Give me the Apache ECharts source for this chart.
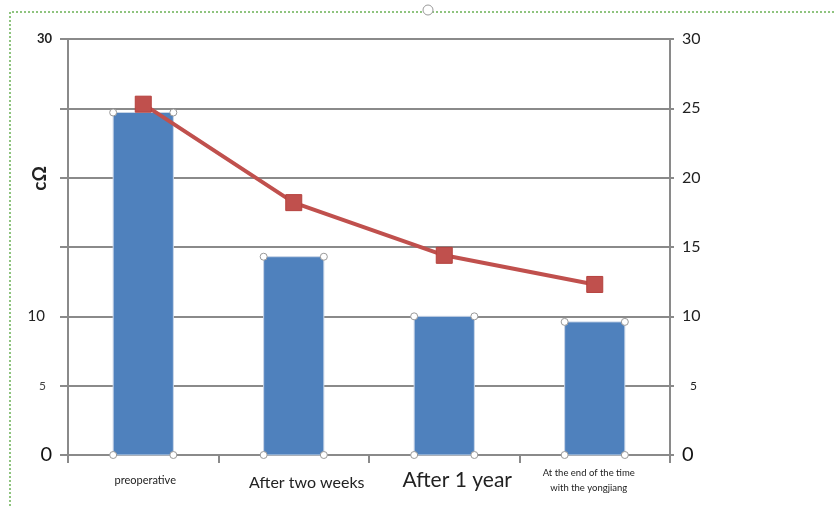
<!DOCTYPE html>
<html>
<head>
<meta charset="utf-8">
<style>
  html, body { margin: 0; padding: 0; background: #fff; }
  #chart { width: 834px; height: 507px; }
</style>
<script src="https://cdn.jsdelivr.net/npm/echarts@6/dist/echarts.min.js"></script>
</head>
<body>
<div id="chart"></div>
<script>
// data
const categories = ['preoperative', 'After two weeks', 'After 1 year', 'At the end of the time\nwith the yongjiang'];
const barValues = [24.7, 14.3, 10.0, 9.6];
const lineValues = [25.3, 18.2, 14.4, 12.3];
const leftTicks = ['30', '10', '5', '0'];
const axisName = 'cΩ';

const gray = '#8a8a8a';
const font = 'Lato, "Noto Sans", sans-serif';

const catStyles = [
    { fontSize: 11, lineHeight: 30, padding: [0, 0, 0, 4] },
    { fontSize: 16, lineHeight: 36, padding: [0, 0, 0, 26] },
    { fontSize: 21, lineHeight: 30, padding: [0, 0, 0, 26] },
    { fontSize: 9.5, lineHeight: 15, padding: [0, 12, 0, 0] }
];

const myChart = echarts.init(document.getElementById('chart'));

const option = {
    animation: false,
    textStyle: { fontFamily: font },
    grid: { left: 68, right: 164, top: 39, bottom: 52 },
    xAxis: {
        type: 'category',
        data: categories.map((c, i) => ({ value: c, textStyle: catStyles[i] })),
        axisLine: { lineStyle: { color: gray, width: 2 } },
        axisTick: { show: true, length: 8, lineStyle: { color: gray, width: 2 } },
        axisLabel: { interval: 0, margin: 10, color: '#222', fontFamily: font }
    },
    yAxis: [{
        type: 'value', min: 0, max: 30, interval: 5,
        axisLine: { show: true, lineStyle: { color: gray, width: 2 } },
        axisTick: { show: true, length: 8, lineStyle: { color: gray, width: 2 } },
        splitLine: { lineStyle: { color: gray, width: 2 } },
        axisLabel: {
            margin: 16,
            formatter: v => {
                const s = String(v);
                if (leftTicks.indexOf(s) < 0) return '';
                return '{t' + s + '|' + s + '}';
            },
            rich: {
                t30: { fontSize: 13, color: '#222', fontWeight: 'bold' },
                t10: { fontSize: 15, color: '#222', padding: [0, 7, 0, 0] },
                t5: { fontSize: 12, color: '#444', padding: [0, 6, 0, 0] },
                t0: { fontSize: 20, color: '#111' }
            }
        }
    }, {
        type: 'value', min: 0, max: 30, interval: 5,
        axisLine: { show: true, lineStyle: { color: gray, width: 2 } },
        axisTick: { show: true, length: 4, lineStyle: { color: gray, width: 2 } },
        splitLine: { show: false },
        axisLabel: {
            margin: 12,
            formatter: v => '{' + (v === 0 ? 'z' : v === 5 ? 'f' : 'n') + '|' + v + '}',
            rich: {
                n: { fontSize: 16, color: '#222' },
                f: { fontSize: 12, color: '#222', padding: [0, 0, 0, 8] },
                z: { fontSize: 20, color: '#111' }
            }
        }
    }],
    series: [{
        type: 'custom',
        data: barValues.map((v, i) => [i, v]),
        encode: { x: 0, y: 1 },
        z: 2,
        renderItem: (params, api) => {
            const top = api.coord([api.value(0), api.value(1)]);
            const base = api.coord([api.value(0), 0]);
            const w = api.size([1, 0])[0] * 0.4;
            const x0 = top[0] - w / 2, x1 = top[0] + w / 2;
            const dot = (x, y) => ({
                type: 'circle', z2: 5,
                shape: { cx: x, cy: y, r: 3.5 },
                style: { fill: '#fff', stroke: '#999', lineWidth: 1 }
            });
            return {
                type: 'group',
                children: [{
                    type: 'rect',
                    shape: { x: x0, y: top[1], width: w, height: base[1] - top[1] },
                    style: { fill: '#4f81bd', stroke: '#c9d6e8', lineWidth: 1 }
                }, dot(x0, top[1]), dot(x1, top[1]), dot(x0, base[1]), dot(x1, base[1])]
            };
        }
    }, {
        type: 'line',
        yAxisIndex: 1,
        data: lineValues,
        z: 3,
        symbol: 'rect',
        symbolSize: 16,
        lineStyle: { color: '#c0504d', width: 4 },
        itemStyle: { color: '#c0504d', borderColor: '#b5403d', borderWidth: 1 }
    }],
    graphic: [{
        type: 'text', left: 30, top: 166, rotation: Math.PI / 2,
        style: { text: axisName, fontSize: 19, fontWeight: 'bold', fill: '#222', fontFamily: font }
    }, {
        type: 'line', silent: true,
        shape: { x1: 12, y1: 12, x2: 834, y2: 12 },
        style: { stroke: '#8fc47f', lineWidth: 2, lineDash: [2, 2] }
    }, {
        type: 'line', silent: true,
        shape: { x1: 10, y1: 12, x2: 10, y2: 507 },
        style: { stroke: '#8fc47f', lineWidth: 2, lineDash: [2, 2] }
    }, {
        type: 'circle', silent: true,
        shape: { cx: 428, cy: 10, r: 5 },
        style: { fill: '#fff', stroke: '#999', lineWidth: 1 }
    }]
};

myChart.setOption(option);
</script>
</body>
</html>
